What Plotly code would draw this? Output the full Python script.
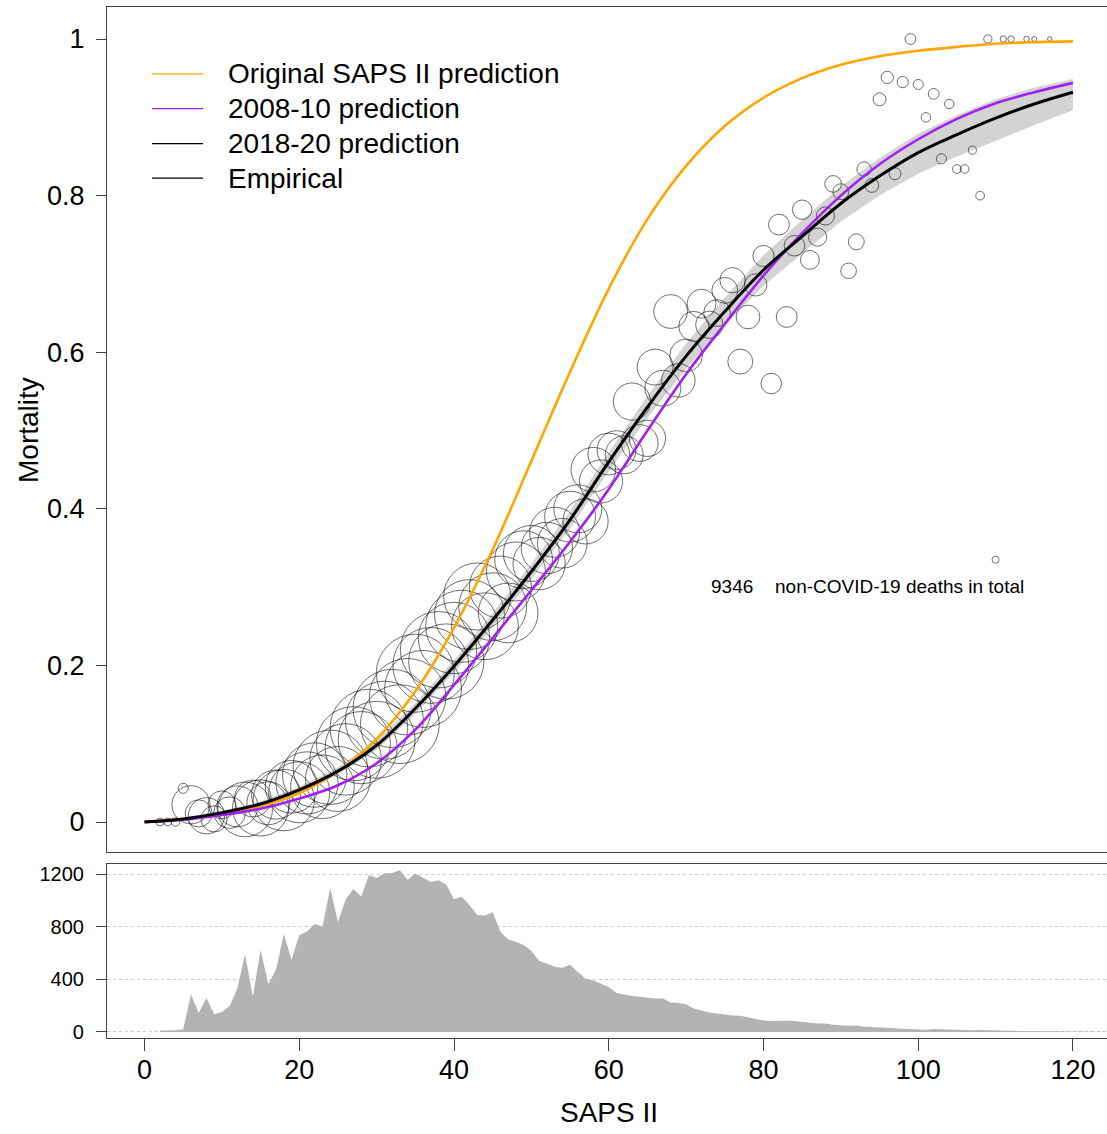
import math
import plotly.graph_objects as go

# ---------------- data ----------------
curve_saps = [0, 5, 10, 15, 20, 25, 30, 35, 40, 45, 50, 55, 60, 65, 70, 75, 80, 85, 90, 95, 100, 105, 110, 115, 120]
orig_pred = [0.0004, 0.0037, 0.0096, 0.020, 0.037, 0.065, 0.106, 0.167, 0.248, 0.348, 0.461, 0.575, 0.681,
             0.770, 0.838, 0.889, 0.925, 0.950, 0.967, 0.978, 0.985, 0.990, 0.994, 0.996, 0.997]
pred_0810 = [0.0, 0.003, 0.009, 0.017, 0.030, 0.047, 0.075, 0.118, 0.175, 0.235, 0.296, 0.358, 0.425,
             0.500, 0.572, 0.636, 0.698, 0.752, 0.800, 0.840, 0.872, 0.898, 0.918, 0.932, 0.944]
pred_1820 = [0.0, 0.004, 0.012, 0.023, 0.041, 0.065, 0.098, 0.145, 0.199, 0.258, 0.320, 0.386, 0.460,
             0.530, 0.595, 0.652, 0.705, 0.748, 0.790, 0.825, 0.855, 0.878, 0.899, 0.917, 0.932]
ci_low = [0.0, 0.003, 0.010, 0.020, 0.037, 0.060, 0.092, 0.138, 0.191, 0.249, 0.310, 0.375, 0.448,
          0.516, 0.579, 0.634, 0.685, 0.726, 0.767, 0.800, 0.828, 0.850, 0.870, 0.890, 0.909]
ci_high = [0.001, 0.005, 0.014, 0.026, 0.045, 0.070, 0.104, 0.152, 0.207, 0.267, 0.330, 0.397, 0.472,
           0.544, 0.611, 0.670, 0.724, 0.769, 0.812, 0.848, 0.879, 0.903, 0.923, 0.938, 0.949]

hist_saps = list(range(2, 125))
hist_counts = [12, 12, 14, 20, 287, 145, 259, 135, 152, 198, 330, 590, 267, 623, 364, 475, 745, 547, 737,
               763, 821, 801, 1093, 834, 1009, 1086, 1030, 1192, 1170, 1205, 1208, 1228, 1157, 1203, 1170,
               1139, 1152, 1120, 1008, 1028, 965, 889, 884, 909, 762, 704, 686, 661, 618, 540, 520, 495,
               488, 511, 455, 405, 392, 367, 342, 297, 284, 274, 267, 259, 254, 254, 224, 221, 211, 179,
               166, 148, 141, 133, 126, 123, 111, 98, 88, 83, 86, 86, 83, 75, 70, 65, 65, 55, 50, 48, 50,
               40, 38, 33, 30, 28, 25, 23, 20, 18, 23, 20, 18, 15, 15, 13, 15, 13, 10, 8, 8, 6, 6, 5, 5,
               4, 4, 3, 3, 3, 2, 2, 2]

emp_saps = [2, 3, 4, 5, 6, 7, 8, 9, 10, 11, 12, 13, 14, 15, 16, 17, 18, 19, 20, 21, 22, 23, 24, 25, 26,
            27, 28, 29, 30, 31, 32, 33, 34, 35, 36, 37, 38, 39, 40, 41, 42, 43, 44, 45, 46, 47, 48, 49,
            50, 51, 52, 53, 54, 55, 56, 57, 58, 59, 60, 61, 62, 63, 64, 65, 66, 67, 68, 69, 70, 71, 72,
            73, 74, 75, 76, 77, 78, 79, 80, 81, 82, 83, 84, 85, 86, 87, 88, 89, 90, 91, 92, 93, 94, 95,
            96, 97, 98, 99, 100, 101, 102, 103, 104, 105, 106, 107, 108, 109, 110, 111, 112, 114, 115, 117]
emp_mort = [0.0, 0.0, 0.0, 0.043, 0.022, 0.011, 0.008, 0.004, 0.022, 0.012, 0.020, 0.016, 0.030, 0.018,
            0.024, 0.035, 0.028, 0.045, 0.038, 0.050, 0.060, 0.045, 0.070, 0.055, 0.080, 0.100, 0.095,
            0.120, 0.105, 0.130, 0.145, 0.125, 0.160, 0.190, 0.170, 0.200, 0.220, 0.205, 0.235, 0.250,
            0.265, 0.288, 0.250, 0.275, 0.300, 0.267, 0.320, 0.335, 0.343, 0.330, 0.350, 0.370, 0.356,
            0.390, 0.400, 0.384, 0.450, 0.435, 0.470, 0.475, 0.469, 0.537, 0.484, 0.490, 0.581, 0.554,
            0.652, 0.564, 0.596, 0.633, 0.662, 0.635, 0.650, 0.679, 0.692, 0.588, 0.645, 0.686, 0.723,
            0.560, 0.763, 0.645, 0.736, 0.782, 0.718, 0.747, 0.774, 0.815, 0.805, 0.704, 0.741, 0.834,
            0.813, 0.923, 0.951, 0.828, 0.945, 1.0, 0.942, 0.900, 0.930, 0.847, 0.917, 0.834, 0.834,
            0.858, 0.800, 1.0, 0.335, 1.0, 1.0, 1.0, 1.0, 1.0]

y_ticks = [0, 0.2, 0.4, 0.6, 0.8, 1]
y_ticktext = ["0", "0.2", "0.4", "0.6", "0.8", "1"]
x_ticks = [0, 20, 40, 60, 80, 100, 120]
hist_ticks = [0, 400, 800, 1200]
total_deaths = 9346
legend_labels = ["Original SAPS II prediction", "2008-10 prediction", "2018-20 prediction", "Empirical"]

# ---------------- styling ----------------
FONT = "Liberation Sans, Arial, sans-serif"
ORANGE = "#FFA500"
PURPLE = "#A020F0"
AXC = "#444444"

count_lookup = dict(zip(hist_saps, hist_counts))
emp_n = [count_lookup.get(s, 5) for s in emp_saps]
bubble_size = [2.25 * math.sqrt(n) for n in emp_n]

fig = go.Figure()

# confidence band
fig.add_trace(go.Scatter(
    x=curve_saps + curve_saps[::-1], y=ci_high + ci_low[::-1],
    fill="toself", fillcolor="#D3D3D3", line=dict(width=0), mode="lines",
    hoverinfo="skip", xaxis="x", yaxis="y", showlegend=False))

# empirical bubbles
fig.add_trace(go.Scatter(
    x=emp_saps, y=emp_mort, mode="markers",
    marker=dict(size=bubble_size, sizemode="diameter", color="rgba(0,0,0,0)",
                line=dict(color="rgba(0,0,0,0.8)", width=1)),
    xaxis="x", yaxis="y", showlegend=False))

for vals, col, w in [(orig_pred, ORANGE, 2.6), (pred_0810, PURPLE, 2.6), (pred_1820, "black", 3)]:
    fig.add_trace(go.Scatter(x=curve_saps, y=vals, mode="lines",
                             line=dict(color=col, width=w, shape="spline", smoothing=1.0),
                             xaxis="x", yaxis="y", showlegend=False))

# histogram area
fig.add_trace(go.Scatter(x=hist_saps, y=hist_counts, mode="lines", fill="tozeroy",
                         fillcolor="#B3B3B3", line=dict(width=0, color="#B3B3B3"),
                         xaxis="x2", yaxis="y2", showlegend=False))

xr = [-4.85, 124.4]
fig.update_layout(
    width=1107, height=1134,
    margin=dict(l=107, r=0, t=7, b=96),
    paper_bgcolor="white", plot_bgcolor="white",
    font=dict(family=FONT, color="black"),
    showlegend=False,
    xaxis=dict(domain=[0, 1], anchor="y", range=xr, showline=True, mirror=True, linecolor=AXC,
               linewidth=1.2, showticklabels=False, ticks="", showgrid=False, zeroline=False),
    yaxis=dict(domain=[0.1804, 1], anchor="x", range=[-0.0383, 1.0409], tickvals=y_ticks,
               ticktext=y_ticktext, ticks="outside", ticklen=10, tickcolor=AXC, showline=True,
               linecolor=AXC, linewidth=1.2, showgrid=False, zeroline=False,
               tickfont=dict(size=27, family=FONT), ticklabelstandoff=6),
    xaxis2=dict(domain=[0, 1], anchor="y2", range=xr, tickvals=x_ticks, ticks="outside",
                ticklen=12, tickcolor=AXC, showline=True, mirror=True, linecolor=AXC, linewidth=1.2,
                showgrid=False, zeroline=False, tickfont=dict(size=27, family=FONT),
                ticklabelstandoff=-5),
    yaxis2=dict(domain=[0, 0.16877], anchor="x2", range=[-45.6, 1276], tickvals=hist_ticks,
                ticks="outside", ticklen=10, tickcolor=AXC, showline=True, linecolor=AXC,
                linewidth=1.2, showgrid=True, gridcolor="#C8C8C8", griddash="dot", gridwidth=1,
                zeroline=False, tickfont=dict(size=20, family=FONT), ticklabelstandoff=8),
)

annotations = [
    dict(text="Mortality", xref="paper", yref="paper", x=-0.079, y=0.5897, textangle=-90,
         showarrow=False, xanchor="center", yanchor="middle", font=dict(size=28)),
    dict(text="SAPS II", xref="paper", yref="paper", x=0.502, y=-0.0727,
         showarrow=False, xanchor="center", yanchor="middle", font=dict(size=28)),
    dict(text=str(total_deaths), xref="x", yref="y", x=73.0, y=0.3014, showarrow=False,
         xanchor="left", yanchor="middle", font=dict(size=19)),
    dict(text="non-COVID-19 deaths in total", xref="x", yref="y", x=81.2, y=0.3014,
         showarrow=False, xanchor="left", yanchor="middle", font=dict(size=19)),
]

# manual legend (positions in main-panel domain units)
leg_y = [0.9208, 0.8797, 0.8383, 0.7976]
leg_cols = [ORANGE, PURPLE, "black", "black"]
shapes = []
for lab, ly, col in zip(legend_labels, leg_y, leg_cols):
    shapes.append(dict(type="line", xref="x domain", yref="y domain", x0=0.045, x1=0.096,
                       y0=ly, y1=ly, line=dict(color=col, width=1.3)))
    annotations.append(dict(text=lab, xref="x domain", yref="y domain", x=0.119, y=ly,
                            showarrow=False, xanchor="left", yanchor="middle",
                            font=dict(size=28)))

fig.update_layout(annotations=annotations, shapes=shapes)
fig.write_html("out.html", config={"displayModeBar": False},
               post_script="document.body.style.margin='0';")
